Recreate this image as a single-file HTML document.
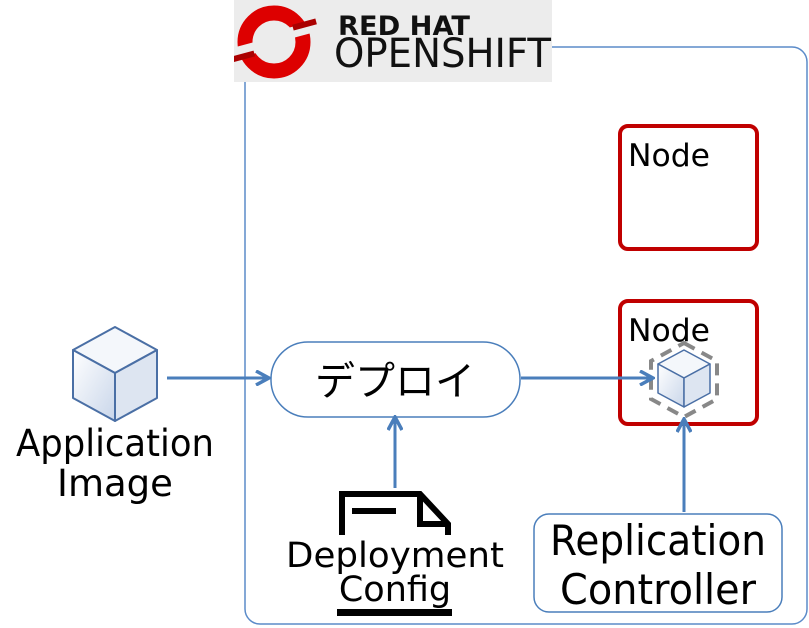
<!DOCTYPE html>
<html><head><meta charset="utf-8"><style>
html,body{margin:0;padding:0;background:#fff;}
svg{display:block;}
text{font-family:"DejaVu Sans","Liberation Sans","Noto Sans CJK JP",sans-serif;}
</style></head><body>
<svg width="809" height="628" viewBox="0 0 809 628" xmlns="http://www.w3.org/2000/svg">
<defs>
<marker id="ah" markerWidth="16" markerHeight="16" refX="13" refY="8" orient="auto" markerUnits="userSpaceOnUse"><path d="M1,1 L14,8 L1,15" fill="none" stroke="#4a7ebb" stroke-width="3.5"/></marker>
<linearGradient id="cg" x1="0" y1="0" x2="1" y2="1"><stop offset="0" stop-color="#fff"/><stop offset="1" stop-color="#c9d6ea"/></linearGradient>
<clipPath id="lc"><rect x="234" y="0" width="318" height="82"/></clipPath>
</defs>
<rect x="245" y="47" width="562" height="577" rx="15" fill="none" stroke="#5b8bc9" stroke-width="1.5"/>
<rect x="234" y="0" width="318" height="82" fill="#ececec"/>
<g clip-path="url(#lc)">
<g transform="translate(274,42)">
<circle r="29" fill="none" stroke="#d00" stroke-width="15"/>
<rect x="-50" y="-5" width="34" height="11" fill="#ececec" transform="rotate(-15)"/>
<rect x="16" y="-10" width="34" height="11" fill="#ececec" transform="rotate(-15)"/>
<rect x="-46" y="3" width="24" height="6" fill="#a00" transform="rotate(-15)"/>
<rect x="22" y="-12" width="24" height="6" fill="#a00" transform="rotate(-15)"/>
</g>
</g>
<text x="338" y="35" font-family="Liberation Sans" font-weight="bold" font-size="27" fill="#111" textLength="132" lengthAdjust="spacingAndGlyphs">RED HAT</text>
<text x="334" y="67" font-family="Liberation Sans" font-size="40" fill="#111" textLength="217" lengthAdjust="spacingAndGlyphs">OPENSHIFT</text>
<rect x="620" y="126" width="137" height="123" rx="8" fill="#fff" stroke="#c00000" stroke-width="4"/>
<text x="628" y="166" font-size="31" textLength="82" lengthAdjust="spacingAndGlyphs">Node</text>
<rect x="620" y="301" width="137" height="123" rx="8" fill="#fff" stroke="#c00000" stroke-width="4"/>
<text x="628" y="341" font-size="31" textLength="82" lengthAdjust="spacingAndGlyphs">Node</text>
<polygon points="684,343 717,361 717,399 684,417 651,399 651,361" fill="none" stroke="#888" stroke-width="4" stroke-dasharray="12,8"/>
<g stroke="#4a6fa5" stroke-width="1.5" stroke-linejoin="round">
<polygon points="684,350 710,364 684,378 658,364" fill="#f4f7fb"/>
<polygon points="658,364 684,378 684,407 658,393" fill="url(#cg)"/>
<polygon points="710,364 684,378 684,407 710,393" fill="#dde5f1"/>
</g>
<g stroke="#4a6fa5" stroke-width="2" stroke-linejoin="round">
<polygon points="115,327 157,350 115,373 73,350" fill="#f4f7fb"/>
<polygon points="73,350 115,373 115,421 73,398" fill="url(#cg)"/>
<polygon points="157,350 115,373 115,421 157,398" fill="#dde5f1"/>
</g>
<text x="115" y="456" font-size="37" text-anchor="middle" textLength="198" lengthAdjust="spacingAndGlyphs">Application</text>
<text x="115" y="496" font-size="37" text-anchor="middle">Image</text>
<rect x="271" y="342" width="249" height="75" rx="37" fill="#fff" stroke="#4a7ebb" stroke-width="1.5"/>
<text x="395" y="395" font-size="40" text-anchor="middle" font-family="Noto Sans CJK JP, sans-serif">デプロイ</text>
<rect x="534" y="514" width="248" height="98" rx="15" fill="#fff" stroke="#4a7ebb" stroke-width="1.5"/>
<text x="658" y="555" font-size="42" text-anchor="middle" textLength="216" lengthAdjust="spacingAndGlyphs">Replication</text>
<text x="658" y="604" font-size="42" text-anchor="middle" textLength="196" lengthAdjust="spacingAndGlyphs">Controller</text>
<path d="M342,535 V494 H420 L448,524 V535 M420,494 V524 H448" fill="none" stroke="#000" stroke-width="6"/>
<rect x="352" y="508" width="44" height="6" fill="#000"/>
<text x="395" y="567" font-size="35" text-anchor="middle" textLength="218" lengthAdjust="spacingAndGlyphs">Deployment</text>
<text x="395" y="601" font-size="35" text-anchor="middle">Config</text>
<rect x="337" y="609" width="115" height="7" fill="#000"/>
<g stroke="#4a7ebb" stroke-width="3" fill="none" marker-end="url(#ah)">
<line x1="167" y1="378" x2="268" y2="378"/>
<line x1="521" y1="378" x2="652" y2="378"/>
<line x1="395" y1="488" x2="395" y2="418"/>
<line x1="684" y1="512" x2="684" y2="420"/>
</g>
</svg>
</body></html>
